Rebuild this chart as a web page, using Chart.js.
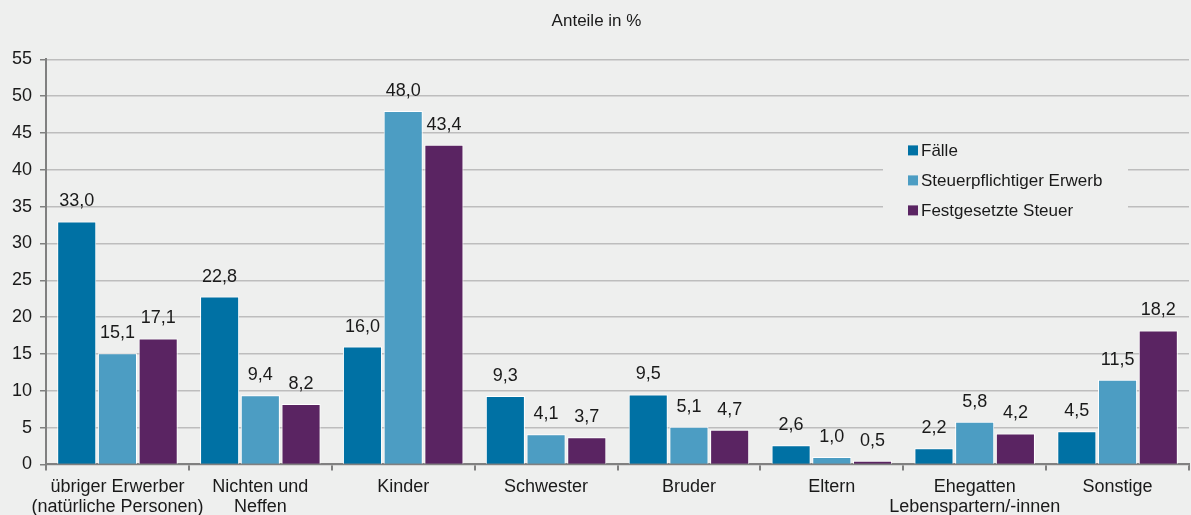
<!DOCTYPE html>
<html>
<head>
<meta charset="utf-8">
<script src="https://cdn.jsdelivr.net/npm/chart.js@4/dist/chart.umd.min.js"></script>
<style>
  html, body { margin: 0; padding: 0; background: #eeefee; }
  #wrap { width: 1191px; height: 515px; }
</style>
</head>
<body>
<div id="wrap"><canvas id="chartAnteile"></canvas></div>
<script>
const kategorien = [
  ["übriger Erwerber", "(natürliche Personen)"],
  ["Nichten und", "Neffen"],
  "Kinder",
  "Schwester",
  "Bruder",
  "Eltern",
  ["Ehegatten", "Lebenspartern/-innen"],
  "Sonstige",
];
const faelle = [33.0, 22.8, 16.0, 9.3, 9.5, 2.6, 2.2, 4.5];
const steuerpflichtigerErwerb = [15.1, 9.4, 48.0, 4.1, 5.1, 1.0, 5.8, 11.5];
const festgesetzteSteuer = [17.1, 8.2, 43.4, 3.7, 4.7, 0.5, 4.2, 18.2];
const yTicks = [0, 5, 10, 15, 20, 25, 30, 35, 40, 45, 50, 55];

const farben = ["#0071a4", "#4c9dc3", "#5a2462"];
const schrift = "'Liberation Sans', Arial, sans-serif";

// Werte über den Balken (mit Dezimalkomma)
const wertePlugin = {
  id: "werte",
  afterDatasetsDraw(chart) {
    const ctx = chart.ctx;
    ctx.save();
    ctx.font = "18px " + schrift;
    ctx.fillStyle = "#1a1a1a";
    ctx.textAlign = "center";
    ctx.textBaseline = "alphabetic";
    chart.data.datasets.forEach((ds, i) => {
      chart.getDatasetMeta(i).data.forEach((bar, j) => {
        ctx.fillText(ds.data[j].toFixed(1).replace(".", ","), bar.x, bar.y - 15);
      });
    });
    ctx.restore();
  },
};

// Legende innerhalb der Zeichenfläche
const legendePlugin = {
  id: "legende",
  beforeDatasetsDraw(chart) {
    const ctx = chart.ctx;
    const a = chart.chartArea;
    const x0 = a.right - 306;
    const y0 = a.top + 78;
    ctx.save();
    ctx.fillStyle = "#eeefee";
    ctx.fillRect(x0, y0, 245, 86);
    ctx.font = "17px " + schrift;
    ctx.textBaseline = "middle";
    chart.data.datasets.forEach((ds, i) => {
      const y = y0 + 13 + i * 30;
      ctx.fillStyle = ds.backgroundColor;
      ctx.fillRect(x0 + 25, y - 5, 10, 10);
      ctx.fillStyle = "#1a1a1a";
      ctx.fillText(ds.label, x0 + 38, y + 1);
    });
    ctx.restore();
  },
};

new Chart(document.getElementById("chartAnteile"), {
  type: "bar",
  data: {
    labels: kategorien,
    datasets: [
      { label: "Fälle", data: faelle, backgroundColor: farben[0] },
      { label: "Steuerpflichtiger Erwerb", data: steuerpflichtigerErwerb, backgroundColor: farben[1] },
      { label: "Festgesetzte Steuer", data: festgesetzteSteuer, backgroundColor: farben[2] },
    ],
  },
  options: {
    responsive: true,
    maintainAspectRatio: false,
    animation: false,
    layout: { padding: { left: 4, right: 2, top: 0, bottom: -9 } },
    datasets: {
      bar: {
        categoryPercentage: 0.855,
        barPercentage: 0.96,
        borderWidth: 1,
        borderColor: "#ffffff",
      },
    },
    plugins: {
      legend: { display: false },
      tooltip: { enabled: false },
      title: {
        display: true,
        text: "Anteile in %",
        color: "#1a1a1a",
        font: { family: schrift, size: 17, weight: "normal" },
        padding: { top: 11, bottom: 28 },
      },
    },
    scales: {
      x: {
        grid: {
          drawOnChartArea: false,
          drawTicks: true,
          tickLength: 6,
          color: "#808080",
          lineWidth: 2,
        },
        border: { color: "#808080", width: 2 },
        ticks: {
          color: "#1a1a1a",
          font: { family: schrift, size: 18, lineHeight: 1.1 },
          padding: 7,
          maxRotation: 0,
          autoSkip: false,
        },
      },
      y: {
        min: 0,
        max: 55,
        afterBuildTicks(axis) {
          axis.ticks = yTicks.map((v) => ({ value: v }));
        },
        grid: {
          color: "#bdbdbd",
          lineWidth: 1.5,
          tickLength: 6,
          tickColor: "#808080",
        },
        border: { color: "#808080", width: 2 },
        ticks: {
          color: "#1a1a1a",
          font: { family: schrift, size: 18 },
          padding: 8,
        },
      },
    },
  },
  plugins: [wertePlugin, legendePlugin],
});
</script>
</body>
</html>
